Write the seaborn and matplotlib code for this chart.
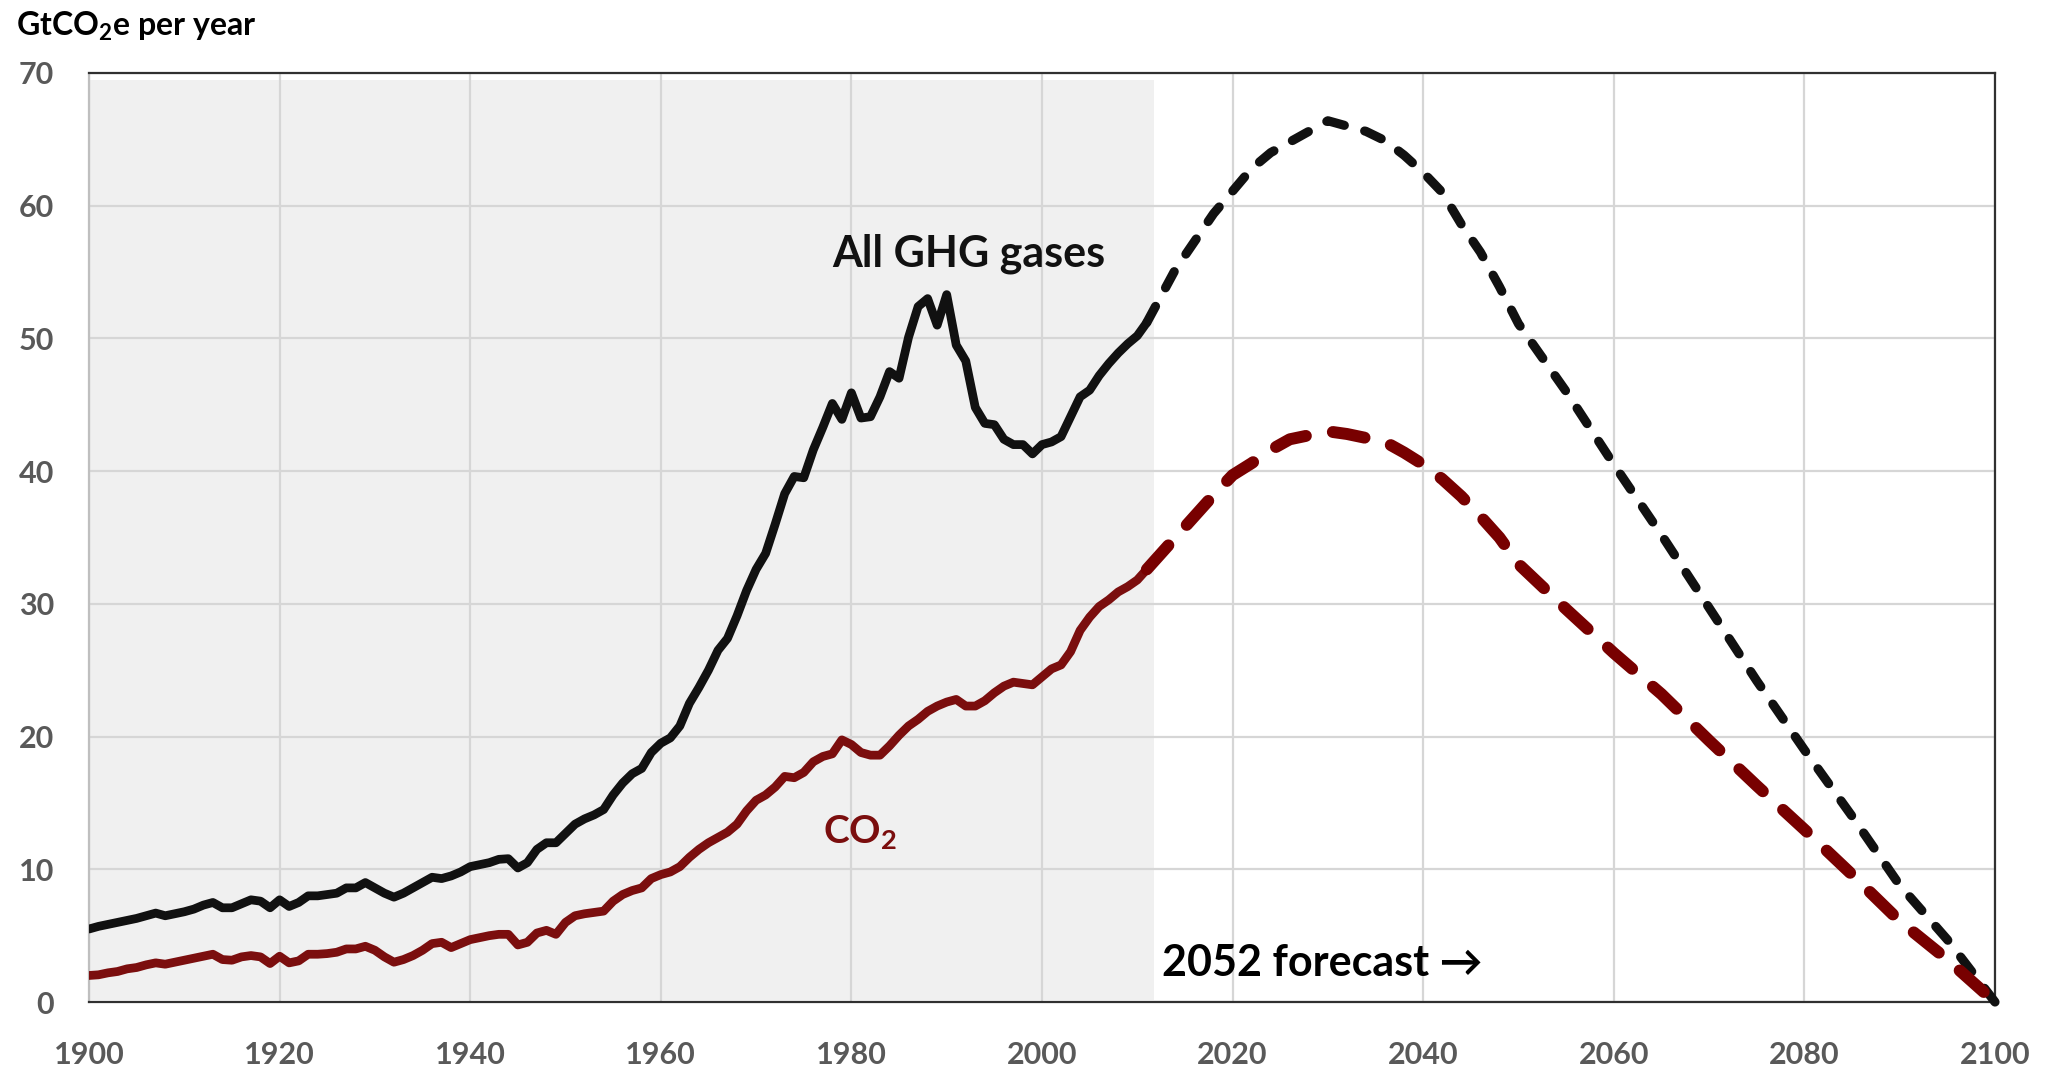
import numpy as np
import pandas as pd
import matplotlib
matplotlib.use("Agg")
import matplotlib.pyplot as plt
import seaborn as sns
from matplotlib.ticker import MultipleLocator

# Historic emissions 1900-2011 (GtCO2e per year)
hist_years = list(range(1900, 2012))
ghg_hist = [
    5.5, 5.7, 5.85, 6.0, 6.15, 6.3, 6.5, 6.7, 6.5, 6.65,
    6.8, 7.0, 7.3, 7.5, 7.1, 7.1, 7.4, 7.7, 7.6, 7.1,
    7.7, 7.2, 7.5, 8.0, 8.0, 8.1, 8.2, 8.6, 8.6, 9.0,
    8.6, 8.2, 7.9, 8.2, 8.6, 9.0, 9.4, 9.3, 9.5, 9.8,
    10.2, 10.35, 10.5, 10.75, 10.8, 10.1, 10.5, 11.5, 12.0, 12.0,
    12.7, 13.4, 13.8, 14.1, 14.5, 15.6, 16.5, 17.2, 17.6, 18.8,
    19.5, 19.9, 20.8, 22.5, 23.7, 25.0, 26.5, 27.4, 29.1, 31.0,
    32.6, 33.8, 36.0, 38.3, 39.6, 39.5, 41.6, 43.3, 45.1, 43.9,
    45.9, 44.0, 44.1, 45.6, 47.5, 47.0, 50.1, 52.4, 53.0, 51.0,
    53.3, 49.5, 48.3, 44.8, 43.6, 43.5, 42.4, 42.0, 42.0, 41.3,
    42.0, 42.2, 42.6, 44.1, 45.6, 46.1, 47.2, 48.1, 48.9, 49.6,
    50.2, 51.2,
]
co2_hist = [
    2.0, 2.05, 2.2, 2.3, 2.5, 2.6, 2.8, 2.95, 2.85, 3.0,
    3.15, 3.3, 3.45, 3.6, 3.2, 3.15, 3.4, 3.5, 3.4, 2.9,
    3.45, 2.95, 3.1, 3.6, 3.6, 3.65, 3.75, 4.0, 4.0, 4.2,
    3.9, 3.4, 3.0, 3.2, 3.5, 3.9, 4.4, 4.5, 4.1, 4.4,
    4.7, 4.85, 5.0, 5.1, 5.1, 4.3, 4.5, 5.2, 5.4, 5.1,
    6.0, 6.5, 6.65, 6.75, 6.85, 7.6, 8.1, 8.4, 8.6, 9.3,
    9.6, 9.8, 10.2, 10.9, 11.5, 12.0, 12.4, 12.8, 13.4, 14.4,
    15.2, 15.6, 16.2, 17.0, 16.9, 17.3, 18.1, 18.5, 18.7, 19.75,
    19.4, 18.8, 18.6, 18.6, 19.3, 20.1, 20.8, 21.3, 21.9, 22.3,
    22.6, 22.8, 22.3, 22.3, 22.7, 23.3, 23.8, 24.1, 24.0, 23.9,
    24.5, 25.1, 25.4, 26.4, 28.0, 29.0, 29.8, 30.3, 30.9, 31.3,
    31.8, 32.6,
]

# 2052 forecast
fc_years = [2011, 2014, 2016, 2018, 2020, 2022, 2024, 2026, 2028, 2030,
            2032, 2034, 2036, 2038, 2040, 2042, 2044, 2046, 2048, 2050,
            2055, 2060, 2065, 2070, 2075, 2080, 2085, 2090, 2095, 2100]
ghg_fc = [51.2, 55.2, 57.3, 59.4, 61.1, 62.8, 64.0, 64.8, 65.6, 66.4,
          66.0, 65.6, 64.9, 63.8, 62.5, 61.0, 58.6, 56.5, 53.9, 51.1,
          46.0, 40.5, 35.2, 29.7, 24.2, 19.0, 14.0, 8.8, 4.7, 0.0]
co2_fc = [32.6, 35.0, 36.6, 38.2, 39.7, 40.6, 41.6, 42.4, 42.7, 43.0,
          42.8, 42.5, 42.2, 41.4, 40.5, 39.4, 38.1, 36.6, 35.0, 33.0,
          29.6, 26.3, 23.2, 19.7, 16.3, 13.0, 9.6, 6.1, 3.2, 0.0]

hist = pd.DataFrame({'Year': hist_years, 'GHG': ghg_hist, 'CO2': co2_hist})
fc = pd.DataFrame({'Year': fc_years, 'GHG': ghg_fc, 'CO2': co2_fc})

sns.set_style("white")
plt.rcParams['font.family'] = ['Lato', 'DejaVu Sans']
plt.rcParams['font.weight'] = 'bold'
plt.rcParams['mathtext.fontset'] = 'custom'
plt.rcParams['mathtext.rm'] = 'Lato:bold'
plt.rcParams['mathtext.it'] = 'Lato:bold'
plt.rcParams['mathtext.bf'] = 'Lato:bold'

BLACK = '#111111'
RED = '#7b0e0e'
DARKRED = '#780000'
GRID = '#d6d6d6'
TICKC = '#595959'

fig = plt.figure(figsize=(20.53, 10.67), dpi=100)
ax = fig.add_axes([0.04335, 0.0609, 0.9284, 0.8707])

# shaded historic period
ax.axvspan(1900, 2011.8, ymin=0.002, ymax=0.992, color='#f0f0f0', lw=0, zorder=0.2)

sns.lineplot(data=hist, x='Year', y='GHG', ax=ax, color=BLACK, lw=6.3,
             solid_joinstyle='round', solid_capstyle='round', zorder=3)
sns.lineplot(data=hist, x='Year', y='CO2', ax=ax, color=RED, lw=6.3,
             solid_joinstyle='round', solid_capstyle='round', zorder=3)
sns.lineplot(data=fc, x='Year', y='GHG', ax=ax, color=BLACK, lw=6.6,
             linestyle=(0, (2.0, 2.3)), dash_capstyle='round', zorder=3, clip_on=False)
sns.lineplot(data=fc, x='Year', y='CO2', ax=ax, color=DARKRED, lw=8.6,
             linestyle=(0, (2.7, 2.3)), dash_capstyle='round', zorder=4, clip_on=False)

ax.set_xlim(1900, 2100)
ax.set_ylim(0, 70)
ax.xaxis.set_major_locator(MultipleLocator(20))
ax.yaxis.set_major_locator(MultipleLocator(10))
ax.yaxis.set_minor_locator(MultipleLocator(5))

ax.set_axisbelow(True)
ax.grid(True, which='major', color=GRID, lw=1.6, zorder=0.5)

ax.tick_params(axis='x', length=0, pad=28, labelsize=22, labelcolor=TICKC)
ax.tick_params(axis='y', which='major', length=8, width=1.6, color='#bfbfbf',
               pad=17, labelsize=22, labelcolor=TICKC)
ax.tick_params(axis='y', which='minor', length=6, width=1.6, color='#bfbfbf')
for lab in ax.get_xticklabels() + ax.get_yticklabels():
    lab.set_fontweight('bold')

for side in ['top', 'right', 'bottom']:
    ax.spines[side].set_color('#303030')
    ax.spines[side].set_linewidth(1.6)
ax.spines['left'].set_color('#bfbfbf')
ax.spines['left'].set_linewidth(1.6)

ax.set_xlabel('')
ax.set_ylabel('')

fig.text(0.008, 0.975, r'GtCO$_2$e per year', fontsize=23, fontweight='bold',
         color='black', ha='left', va='center')

ax.text(1992.3, 55.4, 'All GHG gases', fontsize=31, fontweight='bold',
        color=BLACK, ha='center', va='baseline', zorder=5)
ax.text(1977.0, 12.0, r'CO$_2$', fontsize=28, fontweight='bold',
        color=RED, ha='left', va='baseline', zorder=5)
ax.text(2012.6, 1.96, '2052 forecast \u2192', fontsize=31, fontweight='bold',
        color='black', ha='left', va='baseline', zorder=5)

fig.savefig('out.png', dpi=100)
plt.close(fig)
